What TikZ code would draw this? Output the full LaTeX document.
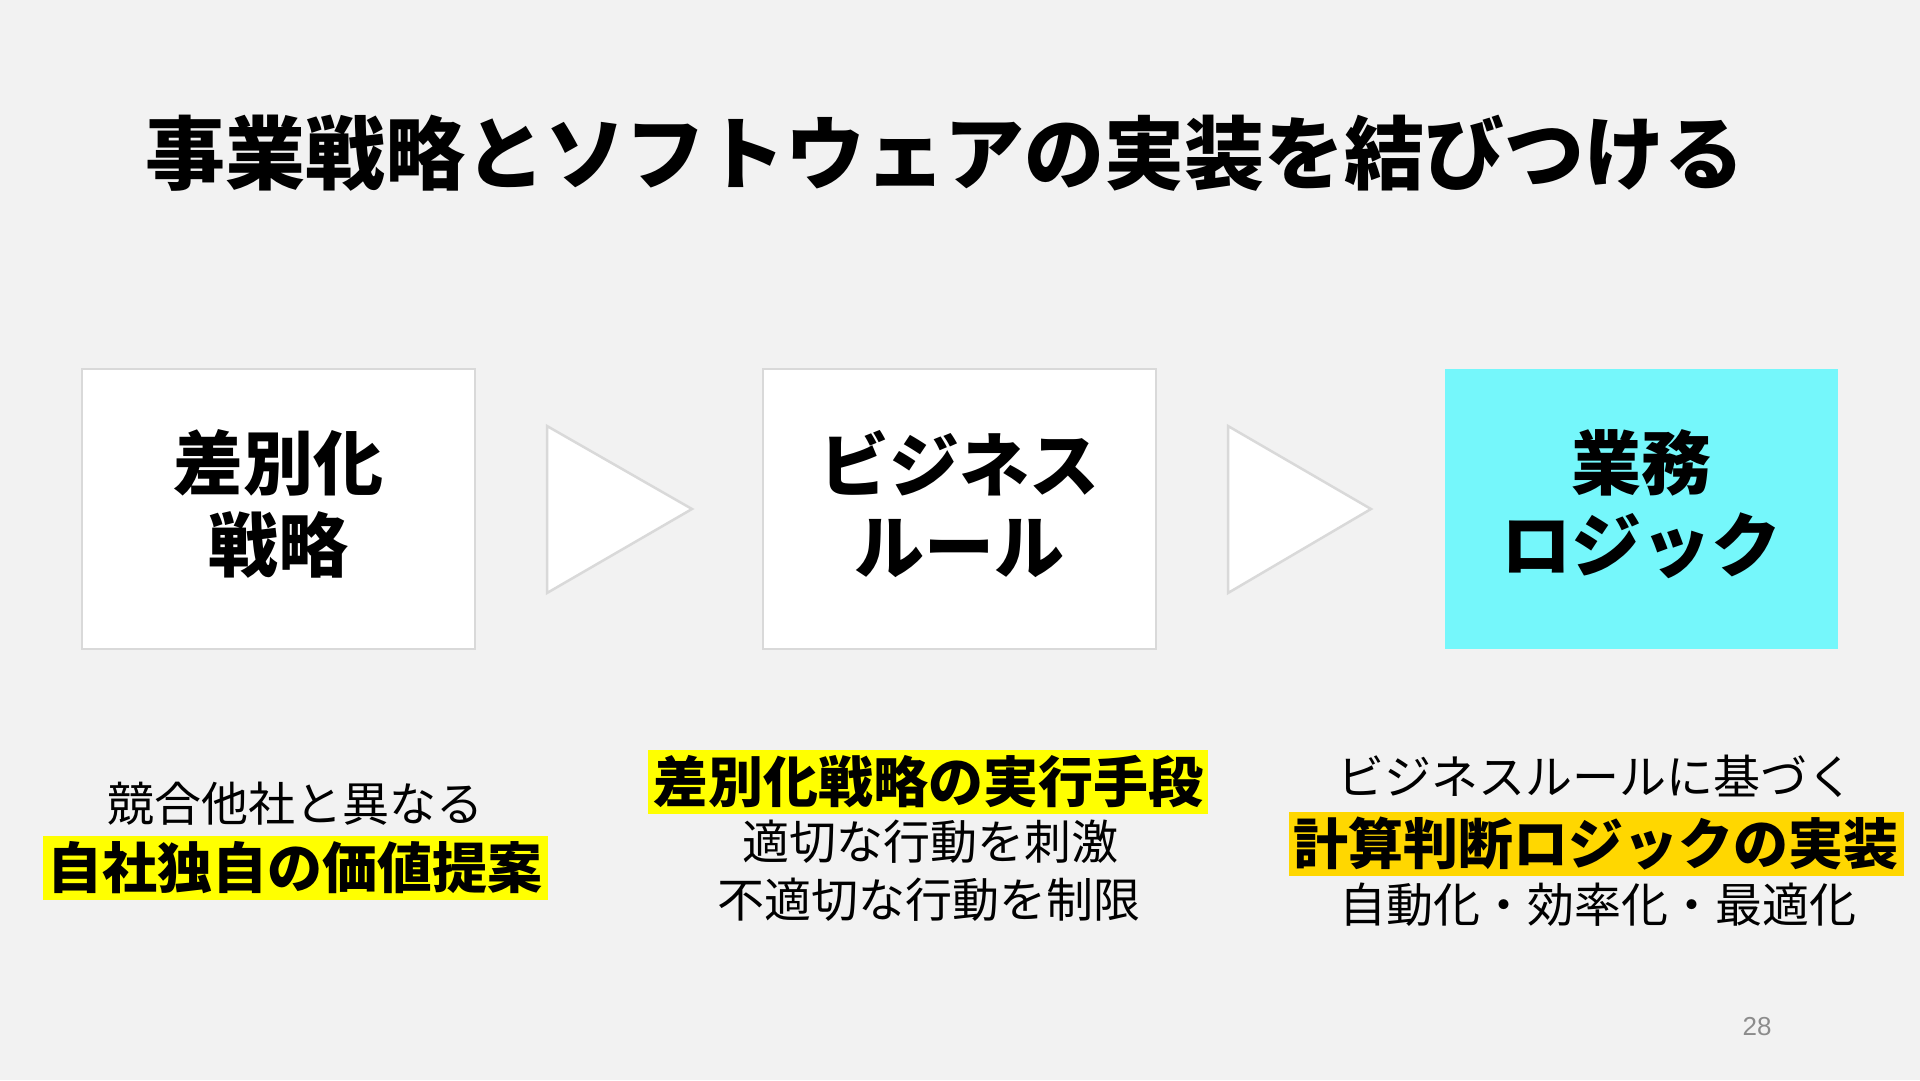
\documentclass[tikz,border=0pt]{standalone}
\usepackage{fontspec}
\setmainfont{Noto Sans CJK JP}
\newfontfamily\latinfont{Liberation Sans}
\definecolor{bgcol}{HTML}{F2F2F2}
\definecolor{edgecol}{HTML}{D9D9D9}
\definecolor{cyancol}{HTML}{75F7FB}
\definecolor{hlyellow}{HTML}{FFFF00}
\definecolor{hlgold}{HTML}{FFD700}
\definecolor{pagecol}{HTML}{8C8C8C}
\tikzset{
  stagebox/.style={minimum width=393pt, minimum height=280pt, inner sep=0pt},
  plainbox/.style={stagebox, fill=white, draw=edgecol, line width=2.5pt},
  keybox/.style={stagebox, fill=cyancol},
  boxlabel/.style={inner sep=0pt, align=center, font=\bfseries\fontsize{70}{82}\selectfont},
  arrowtri/.style={fill=white, draw=edgecol, line width=2.5pt, line join=miter},
  bodytext/.style={inner sep=0pt, font=\fontsize{47}{56}\selectfont},
  marktext/.style={inner xsep=5pt, inner ysep=0pt, minimum height=64pt, font=\bfseries\fontsize{55}{64}\selectfont},
}
\begin{document}
\begin{tikzpicture}[x=1pt,y=-1pt]
\useasboundingbox (0,0) rectangle (1920,1080);
\fill[bgcol] (0,0) rectangle (1920,1080);

\node[font=\bfseries\fontsize{80}{90}\selectfont, inner sep=0pt] (title) at (945,153) {事業戦略とソフトウェアの実装を結びつける};

\node[plainbox] (b1) at (278.5,509) {};
\node[plainbox] (b2) at (959.5,509) {};
\node[keybox] (b3) at (1641,509) {};
\node[boxlabel] (t1) at ([yshift=5pt]b1.center) {差別化\\戦略};
\node[boxlabel] (t2) at ([yshift=5pt]b2.center) {ビジネス\\ルール};
\node[boxlabel] (t3) at ([yshift=5pt]b3.center) {業務\\ロジック};

\draw[arrowtri] (547,426) -- (692,509) -- (547,593) -- cycle;
\draw[arrowtri] (1228,426) -- (1371,509) -- (1228,593) -- cycle;

\node[bodytext] (c1a) at (295,804) {競合他社と異なる};
\node[marktext, fill=hlyellow] (c1b) at (295,868) {自社独自の価値提案};

\node[marktext, fill=hlyellow] (c2a) at (928,782) {差別化戦略の実行手段};
\node[bodytext] (c2b) at (930,842) {適切な行動を刺激};
\node[bodytext] (c2c) at (929,900) {不適切な行動を制限};

\node[bodytext] (c3a) at (1596,776) {ビジネスルールに基づく};
\node[marktext, fill=hlgold] (c3b) at (1596,844) {計算判断ロジックの実装};
\node[bodytext] (c3c) at (1598,905) {自動化・効率化・最適化};

\node[font=\latinfont\fontsize{26}{30}\selectfont, text=pagecol, inner sep=0pt] (page) at (1757,1027) {28};
\end{tikzpicture}
\end{document}
